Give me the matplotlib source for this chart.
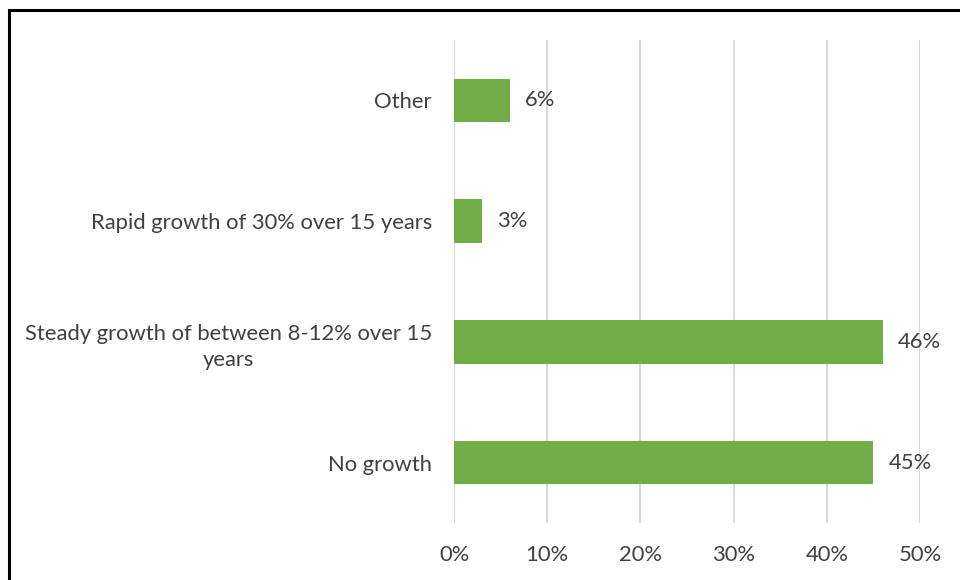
import matplotlib.pyplot as plt
from matplotlib.patches import Rectangle

categories = ['No growth', 'Steady growth of between 8-12% over 15\nyears',
              'Rapid growth of 30% over 15 years', 'Other']
values = [45, 46, 3, 6]
ticks = [0, 10, 20, 30, 40, 50]

plt.rcParams['font.family'] = ['Lato', 'DejaVu Sans']
txt = '#404040'
fs = 15.8

fig = plt.figure(figsize=(9.6, 5.8), dpi=100)
ax = fig.add_axes([454 / 960, 1 - 523 / 580, 466 / 960, 483 / 580])

ys = range(len(categories))
bars = ax.barh(ys, values, height=0.36, color='#70ad47', zorder=3)
for b, v in zip(bars, values):
    ax.annotate(f'{v}%', (b.get_width(), b.get_y() + b.get_height() / 2),
                xytext=(11, 0), textcoords='offset points', va='center',
                ha='left', fontsize=fs, color=txt)

ax.set_xlim(0, 50)
ax.set_ylim(-0.5, 3.5)
ax.set_xticks(ticks)
ax.set_xticklabels([f'{t}%' for t in ticks], fontsize=fs, color=txt)
ax.set_yticks(list(ys))
ax.set_yticklabels(categories, fontsize=fs, color=txt, multialignment='center',
                   linespacing=1.4)
ax.tick_params(axis='x', length=0, pad=16)
ax.tick_params(axis='y', length=0, pad=16)
ax.grid(axis='x', color='#d9d9d9', linewidth=1.5, zorder=0)
for s in ax.spines.values():
    s.set_visible(False)

# chart border, open on the right and bottom
fig.patches.append(Rectangle((9 / 960, -0.1), 1.2, 1 - 10 / 580 + 0.1,
                             transform=fig.transFigure, fill=False,
                             edgecolor='black', linewidth=2.2))

fig.savefig('out.png', dpi=100)
